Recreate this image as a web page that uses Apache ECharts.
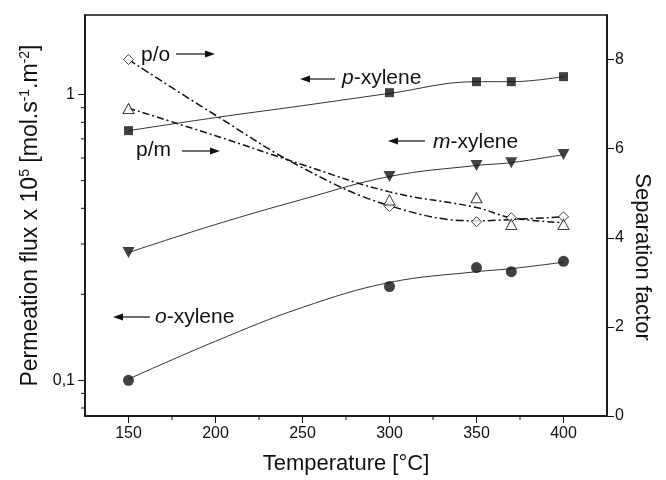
<!DOCTYPE html>
<html>
<head>
<meta charset="utf-8">
<script src="https://cdn.jsdelivr.net/npm/echarts@6/dist/echarts.min.js"></script>
<style>
  html, body { margin: 0; padding: 0; background: #fff; }
  #main { width: 666px; height: 480px; }
</style>
</head>
<body>
<div id="main"></div>
<script>
// temperatures of the measurements
var temps = [150, 300, 350, 370, 400];
// permeation flux x 1e5 (log axis)
var pXylene = [0.748, 1.016, 1.11, 1.11, 1.156];
var mXylene = [0.28, 0.517, 0.565, 0.578, 0.617];
var oXylene = [0.1, 0.213, 0.248, 0.24, 0.261];
// separation factors (right axis)
var sepPO = [8.0, 4.7, 4.36, 4.45, 4.47];
var sepPM = [6.9, 4.85, 4.9, 4.3, 4.3];

// fitted curves
var fitTemps = [150, 200, 250, 300, 350, 370, 400];
var pFit = [0.748, 0.831, 0.915, 1.01, 1.11, 1.11, 1.156];
var mFit = [0.28, 0.351, 0.43, 0.517, 0.565, 0.578, 0.617];
var oFit = [0.101, 0.137, 0.18, 0.22, 0.24, 0.246, 0.259];
var poFit = [8.0, 6.75, 5.57, 4.72, 4.38, 4.41, 4.47];
var pmFit = [6.91, 6.29, 5.64, 5.03, 4.68, 4.45, 4.34];

// axis ticks
var xMajor = [150, 200, 250, 300, 350, 400];
var xMinor = [175, 225, 275, 325, 375];
var yMajor = [0.1, 1];
var yMinor = [0.08, 0.09, 0.2, 0.3, 0.4, 0.5, 0.6, 0.7, 0.8, 0.9];
var sepTicks = [0, 2, 4, 6, 8];

var xMin = 125, xMax = 425, fluxMin = 0.075, fluxMax = 1.9;

function pairs(xs, ys) {
  return xs.map(function (x, i) { return [x, ys[i]]; });
}

var chart = echarts.init(document.getElementById('main'));
var font = 'Liberation Sans';
var black = '#111';

// short minor ticks drawn through the axis scales
function minorTicks(data, dx, dy) {
  return {
    type: 'custom', silent: true, clip: false, data: data, z: 6,
    renderItem: function (params, api) {
      var p = api.coord([api.value(0), api.value(1)]);
      return {
        type: 'line',
        shape: { x1: p[0], y1: p[1], x2: p[0] + dx, y2: p[1] + dy },
        style: { stroke: black, lineWidth: 1 }
      };
    }
  };
}

// little arrow for the annotations
function arrow(x1, x2, y) {
  var back = x2 - (x2 > x1 ? 10 : -10);
  return {
    type: 'group',
    children: [
      { type: 'line', shape: { x1: x1, y1: y, x2: back, y2: y },
        style: { stroke: black, lineWidth: 1.2 } },
      { type: 'polygon', shape: { points: [[x2, y], [back, y - 3.5], [back, y + 3.5]] },
        style: { fill: black } }
    ]
  };
}

function label(x, y, text) {
  return {
    type: 'text', x: x, y: y,
    style: {
      text: text, font: '21px Liberation Sans', fill: black, verticalAlign: 'middle',
      rich: { i: { fontStyle: 'italic', fontSize: 21, fontFamily: font, fill: black } }
    }
  };
}

var option = {
  backgroundColor: '#fff',
  animation: false,
  textStyle: { fontFamily: font },
  grid: {
    left: 85, right: 59, top: 15, bottom: 63,
    show: true, borderColor: black, borderWidth: 1.5
  },
  xAxis: {
    type: 'value', min: xMin, max: xMax,
    axisLine: { lineStyle: { color: black, width: 1.5 } },
    axisTick: { customValues: xMajor, length: 7, lineStyle: { color: black } },
    axisLabel: { customValues: xMajor, color: black, fontSize: 16, margin: 10 },
    splitLine: { show: false },
    name: 'Temperature [°C]', nameLocation: 'middle', nameGap: 37,
    nameTextStyle: { color: black, fontSize: 22 }
  },
  yAxis: [
    {
      type: 'log', min: fluxMin, max: fluxMax, position: 'left',
      axisLine: { show: true, lineStyle: { color: black, width: 1.5 } },
      axisTick: { customValues: yMajor, length: 7, lineStyle: { color: black } },
      axisLabel: {
        customValues: yMajor, color: black, fontSize: 16, margin: 10,
        formatter: function (v) { return String(v).replace('.', ','); }
      },
      splitLine: { show: false },
      name: '{a|Permeation flux x 10}{s|5}{a| [mol.s}{s|-1}{a|.m}{s|-2}{a|]}',
      nameLocation: 'middle', nameGap: 40, nameRotate: 90,
      nameTextStyle: {
        color: black,
        rich: {
          a: { fontSize: 23, color: black, fontFamily: font },
          s: { fontSize: 14, color: black, fontFamily: font, padding: [0, 0, 11, 0] }
        }
      }
    },
    {
      type: 'value', min: 0, max: 9, interval: 1, position: 'right',
      axisLine: { show: true, lineStyle: { color: black, width: 1.5 } },
      axisTick: { customValues: sepTicks, length: 7, lineStyle: { color: black } },
      axisLabel: { customValues: sepTicks, color: black, fontSize: 16, margin: 8 },
      splitLine: { show: false }
    }
  ],
  series: [
    // fitted lines
    { type: 'line', smooth: 0.4, symbol: 'none', data: pairs(fitTemps, pFit),
      lineStyle: { color: '#333', width: 1 }, z: 2 },
    { type: 'line', smooth: 0.4, symbol: 'none', data: pairs(fitTemps, mFit),
      lineStyle: { color: '#333', width: 1 }, z: 2 },
    { type: 'line', smooth: 0.4, symbol: 'none', data: pairs(fitTemps, oFit),
      lineStyle: { color: '#333', width: 1 }, z: 2 },
    { type: 'line', smooth: 0.4, symbol: 'none', yAxisIndex: 1, data: pairs(fitTemps, poFit),
      lineStyle: { color: black, width: 1.5, type: [8, 3, 2, 3] }, z: 2 },
    { type: 'line', smooth: 0.4, symbol: 'none', yAxisIndex: 1, data: pairs(fitTemps, pmFit),
      lineStyle: { color: black, width: 1.5, type: [7, 3, 2, 3] }, z: 2 },
    // measured points
    { type: 'scatter', symbol: 'rect', symbolSize: 9, data: pairs(temps, pXylene),
      itemStyle: { color: black }, z: 5 },
    { type: 'scatter', symbol: 'triangle', symbolRotate: 180, symbolSize: [12, 11],
      data: pairs(temps, mXylene), itemStyle: { color: black }, z: 5 },
    { type: 'scatter', symbol: 'circle', symbolSize: 11, data: pairs(temps, oXylene),
      itemStyle: { color: black }, z: 5 },
    { type: 'scatter', symbol: 'diamond', symbolSize: [10, 10], yAxisIndex: 1,
      data: pairs(temps, sepPO),
      itemStyle: { color: '#fff', borderColor: black, borderWidth: 1 }, z: 5 },
    { type: 'scatter', symbol: 'triangle', symbolSize: [11, 10], yAxisIndex: 1,
      data: pairs(temps, sepPM),
      itemStyle: { color: '#fff', borderColor: black, borderWidth: 1 }, z: 5 },
    // minor ticks
    minorTicks(xMinor.map(function (v) { return [v, fluxMin]; }), 0, 4),
    minorTicks(yMinor.map(function (v) { return [xMin, v]; }), -4, 0)
  ],
  graphic: [
    label(141, 55, 'p/o'),
    arrow(176, 215, 54),
    label(136, 150, 'p/m'),
    arrow(182, 220, 151),
    arrow(335, 300, 79),
    label(342, 78, '{i|p}-xylene'),
    arrow(425, 388, 141),
    label(433, 142, '{i|m}-xylene'),
    arrow(150, 113, 317),
    label(155, 317, '{i|o}-xylene'),
    {
      type: 'text', x: 642, y: 257, rotation: -Math.PI / 2,
      style: { text: 'Separation factor', font: '22px Liberation Sans', fill: black,
        align: 'center', verticalAlign: 'middle' }
    }
  ]
};
chart.setOption(option);
</script>
</body>
</html>
